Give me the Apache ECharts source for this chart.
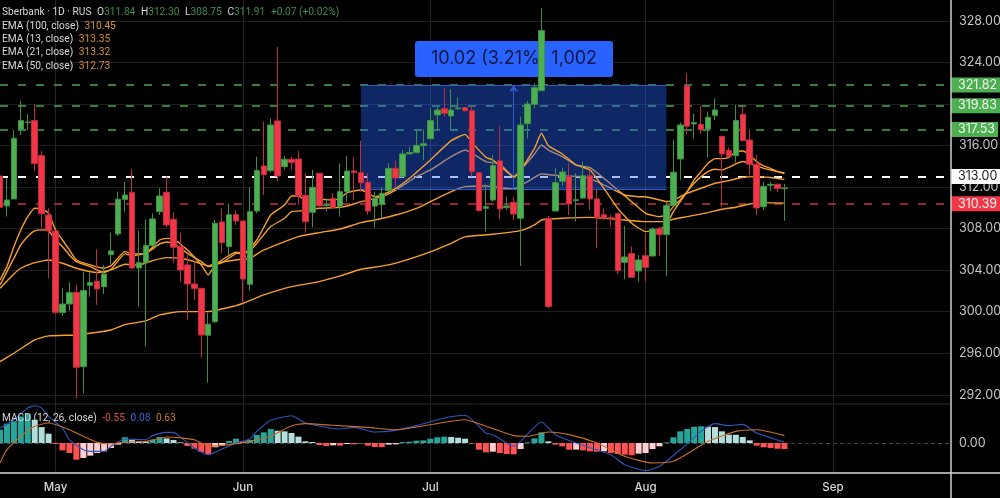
<!DOCTYPE html>
<html>
<head>
<meta charset="utf-8">
<style>html,body{margin:0;padding:0;background:#000}#chart{width:1000px;height:498px}</style>
<script src="https://cdn.jsdelivr.net/npm/echarts@6/dist/echarts.min.js"></script>
</head>
<body>
<div id="chart"></div>
<script>
// open, close, low, high
const candles = [
[313.06,310.05,305.62,314.99],[310.18,310.75,309.15,312.84],[310.85,316.69,310.85,317.49],[317.55,318.39,317.01,320.28],
[318.20,318.26,317.49,319.03],[318.39,314.25,313.54,319.99],[315.02,309.44,308.12,315.47],[309.31,307.77,303.21,309.95],
[307.77,299.94,299.78,307.77],[299.91,300.74,299.59,302.25],[300.74,301.83,300.10,302.83],[301.87,294.65,291.67,302.57],
[294.71,302.03,292.15,303.86],[302.54,302.80,301.45,303.86],[302.93,302.19,300.65,306.01],[302.41,303.63,301.71,304.50],
[305.49,305.85,304.59,307.61],[307.48,310.82,307.29,311.56],[310.79,311.23,309.63,312.52],[311.49,304.21,304.11,313.71],
[304.21,304.72,300.49,307.80],[304.72,306.36,296.64,308.89],[306.36,308.93,306.26,309.47],[309.63,311.14,309.31,311.88],
[311.49,308.35,308.12,313.00],[308.89,306.20,304.72,309.57],[306.26,304.02,302.90,307.61],[304.50,302.67,299.20,305.62],
[302.67,302.22,301.13,304.82],[302.25,297.76,295.58,302.25],[297.73,298.79,293.17,299.91],[299.04,308.51,298.88,308.83],
[308.64,306.65,305.62,309.95],[306.26,309.34,305.40,310.43],[309.34,308.73,308.35,309.73],[308.73,303.15,300.81,308.73],
[302.64,309.63,302.03,311.97],[309.69,313.58,309.47,314.92],[314.03,313.19,311.23,318.29],[313.58,317.97,313.38,318.61],
[318.36,313.06,312.58,325.48],[313.96,314.67,313.71,314.99],[314.67,314.35,313.64,314.92],[314.70,311.14,310.27,315.50],
[311.20,308.67,307.61,313.32],[309.57,311.97,308.12,313.64],[313.32,310.18,310.11,313.32],[310.21,310.30,309.63,310.91],
[310.91,310.05,309.95,311.40],[310.11,311.55,309.15,314.28],[311.55,313.54,310.59,314.99],[313.54,313.38,310.75,314.86],
[313.38,312.42,311.55,316.46],[312.45,309.69,309.31,313.32],[310.17,310.91,308.09,311.55],[310.33,311.39,308.99,311.97],
[311.65,313.80,311.55,314.28],[313.80,312.87,311.87,314.54],[313.00,315.18,312.93,315.56],[315.18,315.31,315.18,315.88],
[315.31,316.01,315.24,317.55],[315.98,316.17,314.60,317.55],[316.65,318.39,316.59,319.57],[318.93,319.41,317.49,319.67],
[319.54,319.09,318.77,321.50],[318.84,319.41,317.55,321.40],[319.54,319.61,319.41,320.63],[319.64,319.35,319.25,319.73],
[319.35,313.48,313.00,319.80],[313.38,309.73,309.63,313.38],[309.95,310.11,307.70,312.26],[310.75,314.06,310.59,315.08],
[314.51,309.89,308.89,317.87],[310.01,310.17,309.79,311.07],[310.53,309.40,308.83,311.07],[308.99,317.97,304.40,318.77],
[318.10,319.99,316.69,320.30],[319.96,321.56,319.57,321.98],[321.27,327.05,321.27,329.20],[308.99,300.49,300.33,309.21],
[309.69,312.42,309.69,313.86],[312.55,313.45,312.10,313.86],[313.00,310.37,309.31,314.28],[310.69,310.78,308.67,313.32],
[310.94,313.09,310.85,314.44],[313.09,310.85,309.79,313.64],[310.85,309.08,306.10,311.78],[309.34,308.99,308.83,309.95],
[309.08,308.96,308.19,309.31],[309.44,303.95,303.63,309.44],[304.75,305.27,303.12,308.25],[305.59,303.31,303.31,306.26],
[303.92,304.98,302.89,305.46],[305.39,304.27,302.89,307.54],[305.36,307.96,305.30,308.12],[307.99,307.42,305.36,308.19],
[307.42,310.21,303.44,310.59],[310.21,313.42,310.21,316.53],[314.70,317.97,312.68,318.20],[321.73,317.85,317.08,322.95],
[318.07,318.20,316.66,319.03],[318.04,317.52,317.11,319.80],[317.59,318.71,314.83,319.26],[318.90,319.42,318.46,320.54],
[316.88,315.18,310.11,316.88],[315.54,314.96,314.86,315.82],[315.02,318.39,314.35,319.90],[319.00,316.47,316.37,319.74],
[316.53,314.19,313.16,317.49],[314.19,309.99,309.31,315.09],[310.11,312.07,309.79,312.52],[312.17,312.26,311.62,312.52],
[312.26,311.85,311.50,312.36],[311.84,311.91,308.75,312.30]
];

// [bar index, price]
const ema13 = [[0,303.05],[1,304.34],[2,306.26],[3,307.87],[4,309.15],[5,309.95],[6,309.89],[7,309.47],[8,307.87],[9,306.90],[10,305.94],[11,304.98],[13,304.50],[15,304.18],[16,304.43],[18,305.78],[19,305.56],[21,305.62],[23,306.90],[24,307.06],[25,307.00],[27,305.94],[29,304.50],[30,303.54],[31,304.50],[34,305.72],[35,305.46],[37,306.90],[39,309.31],[41,310.27],[42,311.14],[43,311.14],[44,310.75],[46,310.82],[48,310.75],[49,310.91],[50,311.46],[52,311.71],[54,311.07],[55,311.23],[57,311.87],[59,312.84],[62,314.60],[65,316.46],[67,317.07],[68,316.27],[70,314.86],[71,314.60],[73,313.48],[74,312.93],[75,313.64],[77,315.72],[78,317.17],[79,315.98],[81,315.18],[83,314.12],[85,313.64],[87,311.87],[89,309.95],[91,308.51],[93,307.71],[95,307.93],[96,308.35],[97,309.63],[98,310.60],[99,311.56],[100,312.68],[101,313.48],[102,314.28],[103,314.73],[104,314.73],[105,314.86],[106,315.41],[107,315.47],[108,315.09],[109,314.45],[110,314.03],[111,313.80],[112,313.48],[113,313.35]];
const ema21 = [[0,302.57],[1,303.86],[2,305.14],[3,306.42],[4,307.23],[5,307.77],[6,307.87],[7,307.80],[8,306.90],[9,306.26],[10,305.46],[11,304.82],[13,304.34],[15,303.76],[16,304.08],[18,305.56],[19,305.40],[21,305.62],[23,306.52],[24,306.71],[25,306.58],[27,305.62],[29,304.82],[30,304.34],[32,304.72],[34,305.62],[36,305.88],[37,306.58],[39,308.19],[41,308.99],[42,309.63],[44,309.73],[46,309.95],[49,310.05],[50,310.17],[52,310.59],[53,310.75],[55,311.07],[57,311.71],[60,313.00],[62,313.64],[65,314.92],[67,315.56],[68,315.24],[70,314.44],[72,314.22],[74,313.00],[75,313.64],[77,315.18],[78,316.05],[79,315.56],[81,314.92],[83,314.12],[85,313.86],[87,312.84],[89,311.71],[91,310.59],[93,309.47],[95,309.15],[96,309.31],[97,310.11],[98,310.76],[99,311.56],[100,312.36],[101,313.00],[102,313.48],[103,313.71],[104,313.64],[105,313.90],[106,314.22],[107,314.45],[108,314.28],[109,314.03],[110,313.80],[111,313.64],[112,313.48],[113,313.32]];
const ema50 = [[0,302.25],[2,303.63],[3,304.18],[5,304.72],[7,304.98],[9,304.66],[11,304.18],[14,303.76],[16,304.02],[18,304.56],[20,304.50],[22,304.92],[24,305.20],[26,305.14],[28,304.82],[30,304.40],[31,304.66],[34,304.98],[36,305.14],[38,305.94],[41,306.74],[43,307.23],[46,307.61],[49,307.96],[52,308.57],[54,308.83],[57,309.31],[60,309.95],[62,310.59],[65,311.55],[67,312.04],[70,312.10],[74,311.81],[76,312.52],[78,313.25],[81,313.06],[84,313.00],[86,312.52],[88,311.87],[90,311.23],[92,311.07],[93,311.07],[95,310.76],[96,310.60],[97,310.69],[98,311.08],[99,311.40],[101,311.88],[103,312.36],[105,312.62],[107,312.94],[109,313.00],[111,312.91],[113,312.73]];
const ema100 = [[0,295.19],[2,296.00],[5,297.28],[7,297.67],[11,297.76],[14,298.02],[16,298.24],[18,298.76],[21,299.11],[23,299.69],[26,300.01],[30,300.01],[34,300.58],[35,300.81],[38,301.61],[42,302.41],[46,302.89],[49,303.44],[52,304.08],[56,304.50],[61,305.52],[65,306.58],[67,307.22],[71,307.45],[75,307.80],[77,308.35],[78,308.83],[81,308.99],[85,309.08],[89,308.89],[93,308.67],[96,308.67],[97,308.90],[99,309.15],[102,309.54],[104,309.86],[106,310.05],[108,310.37],[110,310.50],[113,310.45]];

const macdHist = [1.21,1.76,1.97,2.42,2.67,2.12,1.45,.85,-.09,-.67,-.91,-1.52,-1.36,-1.15,-.91,-.76,-.45,-.15,.52,.30,.18,.15,.30,.55,.42,.27,.06,-.27,-.52,-.82,-1.0,-.39,-.21,.18,.39,.12,.27,.73,.97,1.27,1.12,1.06,.91,.58,.15,.09,-.18,-.27,-.21,-.24,-.09,-.12,-.03,-.24,-.36,-.37,-.15,-.12,.09,.12,.21,
.24,.39,.52,.58,.55,.48,.39,-.06,-.61,-.85,-.79,-.91,-1.0,-1.03,-.55,.06,.42,.97,.15,-.15,-.30,-.61,-.60,-.67,-.76,-.79,-.76,-.91,-1.0,-1.06,-1.12,-.97,-.91,-.55,-.30,.06,.52,1.06,1.27,1.48,1.52,1.48,1.45,1.06,.76,.75,.55,.24,-.24,-.39,-.45,-.52,-.55];
const macdLine = [[0,1.36],[2,2.12],[4,3.18],[5,3.39],[6,3.18],[7,2.42],[9,1.36],[10,.30],[12,-.61],[13,-.76],[15,-.76],[16,-.30],[18,.36],[21,.30],[22,.67],[24,.97],[25,.97],[26,.55],[28,-.45],[30,-1.06],[32,-.55],[34,0],[36,.36],[37,1.06],[39,2.06],[42,2.48],[44,1.82],[49,1.27],[51,1.42],[54,1.0],[57,1.15],[60,1.58],[64,2.27],[67,2.52],[70,.91],[71,.76],[74,-.30],[75,.15],[78,1.91],[80,.76],[83,0],[88,-1.06],[90,-1.97],[93,-2.52],[95,-2.12],[98,-.61],[101,1.06],[103,1.76],[105,1.58],[107,1.70],[109,.91],[113,.08]];
const macdSignal = [[0,-1.82],[1,-.61],[3,.61],[5,1.52],[7,1.82],[10,1.21],[12,.61],[14,.06],[16,-.09],[18,.09],[21,.15],[24,.55],[28,.30],[30,-.30],[33,-.15],[36,.15],[39,.61],[42,1.58],[44,1.76],[48,1.61],[53,1.42],[57,1.21],[60,1.45],[67,2.12],[70,1.52],[74,.67],[76,.61],[79,1.0],[82,.76],[86,0],[90,-1.21],[94,-1.82],[97,-1.67],[102,.15],[106,1.06],[109,1.21],[113,.67]];

const barCount = 138;
const monthTicks = { 8: 'May', 35: 'Jun', 62: 'Jul', 93: 'Aug', 120: 'Sep' };
const priceGrid = [292,296,300,304,308,312,316,320,324,328];
const priceLabels = [292,296,300,304,308,312,316,324,328];
const greenLevels = [321.82,319.83,317.53];
const whiteLevel = 313.00;
const redLevel = 310.39;
const emaLegend = [['EMA (100, close)','310.45'],['EMA (13, close)','313.35'],['EMA (21, close)','313.32'],['EMA (50, close)','312.73']];

const UP = '#4caf50', DOWN = '#f23645', ORANGE = '#f5a02d';
const FONT = 'Inter, Roboto, sans-serif';
const SMALL = 'Roboto, sans-serif';

let categories = [];
for (let i = 0; i < barCount; i++) categories.push(monthTicks[i] || String(i));
const isMonth = (i) => monthTicks[i] !== undefined;

function levelLine(value, color, width, labelBg, labelColor) {
    return {
        yAxis: value,
        lineStyle: { color: color, width: width, type: [8, 10] },
        label: {
            show: true, position: 'end', distance: 0,
            formatter: value.toFixed(2),
            backgroundColor: labelBg, color: labelColor,
            fontFamily: FONT, fontSize: 12.5,
            padding: [1, 3, 1, 7], lineHeight: 13, align: 'left'
        }
    };
}

function emaSeries(name, data, z) {
    return {
        name: name, type: 'line', data: data, z: z, xAxisIndex: 0, yAxisIndex: 0,
        showSymbol: false, smooth: 0.15, clip: true,
        lineStyle: { color: ORANGE, width: 1.4 }
    };
}

function histColor(params) {
    let v = params.value, prev = params.dataIndex > 0 ? macdHist[params.dataIndex - 1] : v - 1;
    if (v >= 0) return v >= prev ? '#26a69a' : '#b2dfdb';
    return v <= prev ? '#ff5252' : '#ffcdd2';
}

function smallText(color) {
    return { color: color, fontFamily: SMALL, fontSize: 10.2 };
}

let titles = [{
    left: 2, top: 7, padding: 0,
    text: '{w|Sberbank · 1D · RUS}  {w|O}{g|311.84}  {w|H}{g|312.30}  {w|L}{g|308.75}  {w|C}{g|311.91}  {g|+0.07 (+0.02%)}',
    textStyle: { fontSize: 10, fontWeight: 'normal', rich: { w: smallText('#d8d8d8'), g: smallText('#3f8f4a') } }
}];
emaLegend.forEach(function (row, i) {
    titles.push({
        left: 2, top: 21 + i * 13.4, padding: 0,
        text: '{w|' + row[0] + '}  {o|' + row[1] + '}',
        textStyle: { fontSize: 10, fontWeight: 'normal', rich: { w: smallText('#d8d8d8'), o: smallText('#d9913c') } }
    });
});
titles.push({
    left: 2, top: 413, padding: 0,
    text: '{w|MACD (12, 26, close)}  {r|-0.55}  {b|0.08}  {o|0.63}',
    textStyle: { fontSize: 10, fontWeight: 'normal', rich: {
        w: smallText('#d8d8d8'), r: smallText('#e05050'), b: smallText('#3f66c8'), o: smallText('#c9772f')
    } }
});

let myChart = echarts.init(document.getElementById('chart'));
let options = {
    animation: false,
    backgroundColor: '#000',
    title: titles,
    grid: [
        { left: 0, top: 0, width: 951, height: 404, outerBoundsMode: 'none' },
        { left: 0, top: 404, width: 951, height: 69, outerBoundsMode: 'none' }
    ],
    xAxis: [{
        type: 'category', data: categories, boundaryGap: false, gridIndex: 0,
        axisLine: { show: false }, axisTick: { show: false }, axisLabel: { show: false },
        splitLine: { show: true, interval: isMonth, lineStyle: { color: '#262626', width: 1 } }
    }, {
        type: 'category', data: categories, boundaryGap: false, gridIndex: 1,
        axisLine: { show: false }, axisTick: { show: false },
        axisLabel: {
            interval: isMonth, color: '#d8d8d8', fontFamily: FONT, fontSize: 11.5, fontWeight: 500, margin: 9
        },
        splitLine: { show: true, interval: isMonth, lineStyle: { color: '#262626', width: 1 } }
    }],
    yAxis: [{
        type: 'value', position: 'right', gridIndex: 0, min: 291.115, max: 330,
        axisLine: { show: false },
        axisTick: { show: false, customValues: priceGrid },
        axisLabel: {
            customValues: priceLabels, margin: 8, color: '#c4c4c4', fontFamily: FONT, fontSize: 12.5,
            formatter: (v) => v.toFixed(2)
        },
        splitLine: { show: true, lineStyle: { color: '#1f1f1f', width: 1 } }
    }, {
        type: 'value', position: 'right', gridIndex: 1, min: -2.73, max: 3.55,
        axisLine: { show: false },
        axisTick: { show: false, customValues: [0] },
        axisLabel: {
            customValues: [0], margin: 8, color: '#c4c4c4', fontFamily: FONT, fontSize: 12.5,
            formatter: (v) => v.toFixed(2)
        },
        splitLine: { show: true, lineStyle: { color: '#4a4a4a', width: 1, type: [4, 3] } }
    }],
    series: [
        {
            // price levels
            name: 'levels', type: 'line', data: [], z: 1, xAxisIndex: 0, yAxisIndex: 0,
            markLine: {
                silent: true, symbol: 'none', z: 1, animation: false,
                data: greenLevels.map((v) => levelLine(v, '#4aa552', 1.5, UP, '#f4f4f4'))
                    .concat([levelLine(whiteLevel, '#ffffff', 2, '#ffffff', '#222'),
                             levelLine(redLevel, '#c2334a', 1.5, DOWN, '#f4f4f4')])
            }
        },
        emaSeries('EMA 100', ema100, 1),
        emaSeries('EMA 50', ema50, 1),
        emaSeries('EMA 21', ema21, 1),
        {
            // measure box
            name: 'range', type: 'line', data: [], z: 3, xAxisIndex: 0, yAxisIndex: 0,
            markArea: {
                silent: true, z: 2, animation: false,
                itemStyle: { color: 'rgba(41,98,255,0.4)' },
                data: [[{ coord: [52, 321.82] }, { coord: [96, 311.80] }]]
            },
            markLine: {
                silent: true, z: 3, animation: false, symbol: 'none', label: { show: false },
                lineStyle: { color: '#2f5bc9', width: 1, type: 'solid' },
                data: [
                    [{ coord: [52, 321.82] }, { coord: [96, 321.82] }],
                    [{ coord: [52, 311.80] }, { coord: [96, 311.80] }],
                    [{ coord: [74, 311.80], symbol: 'none' }, { coord: [74, 321.82], symbol: 'arrow', symbolSize: 7 }]
                ]
            }
        },
        emaSeries('EMA 13', ema13, 3),
        {
            name: 'Sberbank', type: 'candlestick', data: candles, z: 5, xAxisIndex: 0, yAxisIndex: 0,
            barWidth: 6,
            itemStyle: { color: UP, color0: DOWN, borderColor: '#3f9045', borderColor0: '#bf2e40', borderWidth: 1 }
        },
        {
            name: 'Histogram', type: 'bar', data: macdHist, xAxisIndex: 1, yAxisIndex: 1, z: 2,
            barWidth: 6,
            itemStyle: { color: histColor }
        },
        {
            name: 'MACD', type: 'line', data: macdLine, xAxisIndex: 1, yAxisIndex: 1, z: 3,
            showSymbol: false, smooth: 0.2, lineStyle: { color: '#2f55c0', width: 1.1 }
        },
        {
            name: 'Signal', type: 'line', data: macdSignal, xAxisIndex: 1, yAxisIndex: 1, z: 3,
            showSymbol: false, smooth: 0.2, lineStyle: { color: '#c9702a', width: 1.1 }
        }
    ],
    graphic: [
        { type: 'rect', z: 4, shape: { x: 415, y: 41, width: 198, height: 36, r: 3 }, style: { fill: '#2962ff' } },
        { type: 'text', z: 4, x: 514, y: 59, style: {
            text: '10.02 (3.21%) 1,002', fill: '#0a1a44', font: '18px ' + FONT, textAlign: 'center', textVerticalAlign: 'middle'
        } },
        { type: 'line', z: 6, shape: { x1: 951, y1: 0, x2: 951, y2: 498 }, style: { stroke: '#cfcfcf', lineWidth: 1.5 } },
        { type: 'line', z: 6, shape: { x1: 0, y1: 473, x2: 1000, y2: 473 }, style: { stroke: '#d8d8d8', lineWidth: 1.5 } },
        { type: 'line', z: 1, shape: { x1: 0, y1: 404, x2: 951, y2: 404 }, style: { stroke: '#2a2a2a', lineWidth: 1 } }
    ]
};
myChart.setOption(options);
</script>
</body>
</html>
